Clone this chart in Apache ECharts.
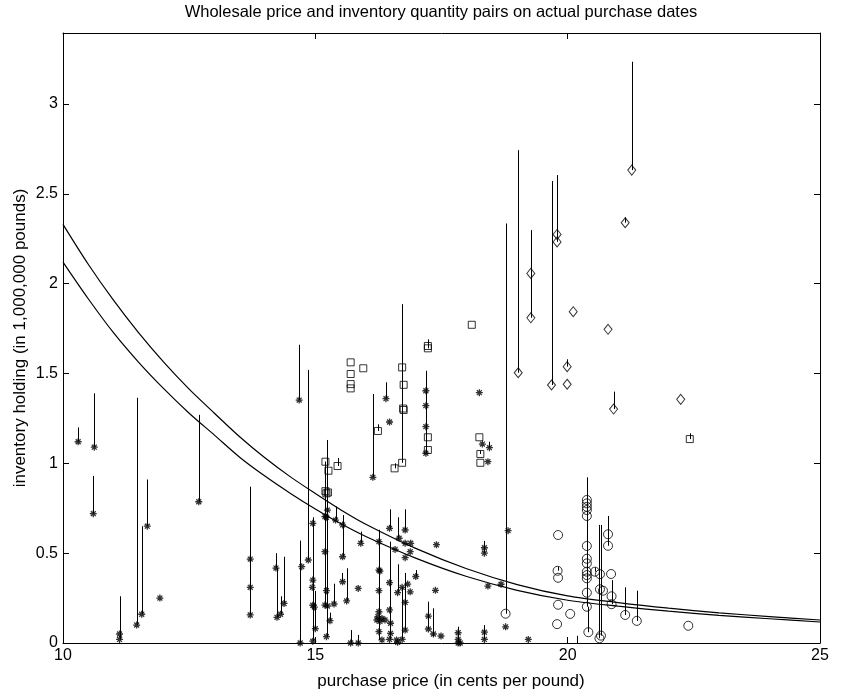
<!DOCTYPE html>
<html>
<head>
<meta charset="utf-8">
<script src="https://cdn.jsdelivr.net/npm/echarts@6/dist/echarts.min.js"></script>
<style>html,body{margin:0;padding:0;background:#fff}#c{width:849px;height:694px}</style>
</head>
<body>
<div id="c"></div>
<script>
// ---- data ----
const titleText = 'Wholesale price and inventory quantity pairs on actual purchase dates';
const xName = 'purchase price (in cents per pound)';
const yName = 'inventory holding (in 1,000,000 pounds)';
const xTicks = [10, 15, 20, 25];
const yTicks = [0, 0.5, 1, 1.5, 2, 2.5, 3];

const starX = [10.30,10.62,10.60,11.67,11.12,11.12,11.46,11.56,11.92,12.69,13.71,13.71,13.71,14.22,14.24,14.31,14.38,14.70,14.73,14.68,14.86,
  14.95,14.95,14.94,14.95,14.98,15.00,14.95,15.24,15.19,15.22,15.19,15.22,15.19,15.24,15.22,15.29,15.37,15.40,15.54,15.54,15.54,15.62,15.90,15.85,15.70,15.85,
  16.26,16.26,16.28,16.26,16.26,16.24,16.22,16.28,16.26,16.32,16.38,16.32,16.47,16.47,16.47,16.49,16.49,16.47,16.61,16.66,16.58,16.63,16.63,16.72,16.72,
  16.78,16.78,16.78,16.78,16.78,16.83,16.88,16.89,16.88,16.99,17.40,17.38,17.24,17.24,17.34,17.49,17.83,17.83,17.83,17.87,18.35,18.35,18.35,18.35,
  18.42,18.68,18.82,18.77,19.22,16.14,16.40,16.47,17.19,17.19,17.19,17.19,18.25,18.31,18.45,18.42];
const starY = [1.12,1.09,0.72,0.65,0.05,0.02,0.10,0.16,0.25,0.786,0.467,0.31,0.156,0.417,0.143,0.16,0.22,0.0,0.425,1.352,0.462,
  0.666,0.35,0.31,0.21,0.20,0.08,0.01,0.74,0.703,0.70,0.508,0.291,0.211,0.206,0.035,0.124,0.217,0.684,0.657,0.48,0.341,0.234,0.555,0.304,0.0,0.0,
  0.564,0.406,0.40,0.291,0.174,0.146,0.128,0.12,0.063,0.137,0.128,0.017,0.638,0.336,0.184,0.11,0.054,0.02,0.017,0.583,0.521,0.28,0.004,0.31,0.02,
  0.629,0.555,0.475,0.226,0.072,0.328,0.285,0.555,0.508,0.37,0.547,0.293,0.15,0.078,0.05,0.039,0.057,0.02,0.0,0.0,0.06,0.02,0.53,0.50,
  0.317,0.327,0.625,0.09,0.02,0.922,1.36,1.23,1.404,1.321,1.204,1.056,1.393,1.107,1.087,1.009];

const squareX = [15.20,15.26,15.22,15.20,15.25,15.44,15.70,15.70,15.70,15.70,15.95,16.24,16.57,16.72,16.75,16.75,16.74,16.72,17.23,17.23,17.23,17.23,18.10,18.25,18.27,18.27,22.42];
const squareY = [1.009,0.959,0.833,0.845,0.838,0.985,1.562,1.497,1.441,1.417,1.529,1.18,0.972,1.534,1.437,1.297,1.305,1.003,1.653,1.64,1.145,1.074,1.771,1.145,1.052,1.003,1.135];

const circleX = [18.77,20.38,20.38,20.38,20.38,20.38,20.38,20.38,20.38,20.38,20.38,20.38,20.38,20.38,20.41,19.81,19.80,19.81,19.81,20.05,19.79,
  20.54,20.64,20.64,20.70,20.66,20.63,20.80,20.80,20.86,20.87,20.87,21.14,21.37,22.39];
const circleY = [0.163,0.796,0.777,0.758,0.74,0.707,0.54,0.469,0.443,0.397,0.378,0.36,0.28,0.202,0.06,0.601,0.402,0.363,0.213,0.162,0.105,
  0.397,0.383,0.299,0.291,0.041,0.026,0.605,0.541,0.384,0.26,0.216,0.156,0.123,0.096];

const diamondX = [19.02,19.27,19.27,19.68,19.79,19.79,19.99,19.99,20.11,20.80,20.91,21.14,21.27,22.24];
const diamondY = [1.504,2.057,1.81,1.436,2.274,2.232,1.538,1.44,1.844,1.746,1.302,2.339,2.632,1.356];

// vertical segments: x, lower end, upper end
const segX  = [10.30,10.62,10.60,11.67,11.12,11.46,11.56,12.69,13.71,14.22,14.24,14.31,14.38,14.70,14.68,14.86,14.95,15.00,15.24,15.19,
  15.29,15.37,15.40,15.54,15.53,15.62,15.90,15.70,15.85,16.26,16.47,16.47,16.64,16.78,16.63,16.72,16.78,16.99,17.24,17.34,17.83,18.35,18.35,
  16.14,16.40,17.19,18.45,15.44,16.24,16.57,16.72,17.23,18.27,22.42,
  18.77,20.38,20.41,19.80,20.54,20.63,20.66,20.80,20.87,21.14,21.37,20.18,
  19.02,19.27,19.68,19.79,19.99,20.91,21.14,21.27];
const segLo = [1.12,1.09,0.72,0.65,0.02,0.10,0.16,0.786,0.156,0.417,0.143,0.16,0.22,0.0,1.352,0.462,0.01,0.078,0.035,0.21,
  0.124,0.217,0.684,0.48,0.341,0.234,0.555,0.0,0.0,0.017,0.638,0.02,0.577,0.629,0.28,0.02,0.072,0.37,0.078,0.039,0.0,0.02,0.50,
  0.922,1.36,1.056,1.087,0.985,1.18,0.972,1.003,1.64,1.052,1.135,
  0.163,0.202,0.06,0.402,0.397,0.026,0.041,0.541,0.216,0.156,0.123,0.0,
  1.504,1.81,1.436,2.232,1.538,1.302,2.339,2.632];
const segHi = [1.20,1.39,0.93,0.91,0.26,1.365,0.65,1.27,0.87,0.50,0.417,0.26,0.48,0.57,1.66,1.52,0.70,0.29,1.13,1.01,
  0.169,0.33,0.76,0.712,0.39,0.416,0.62,0.072,0.045,0.63,0.744,0.564,0.70,0.744,0.438,0.31,0.39,0.406,0.23,0.193,0.091,0.10,0.568,
  1.386,1.451,1.515,1.12,1.03,1.217,1.0,1.886,1.69,1.07,1.167,
  2.335,0.922,0.202,0.425,0.42,0.657,0.657,0.707,0.35,0.31,0.291,0.04,
  2.743,2.298,2.571,2.604,1.579,1.399,2.369,3.235];

// curves
const curveX = [10,10.5,11,11.5,12,12.5,13,13.5,14,14.5,15,15.5,16,17,18,19,20,21,22,23,24,25];
const upperY = [2.33,2.108,1.908,1.726,1.562,1.413,1.279,1.148,1.031,0.926,0.832,0.742,0.661,0.525,0.413,0.325,0.262,0.225,0.194,0.168,0.147,0.128];
const lowerY = [2.12,1.916,1.727,1.562,1.414,1.279,1.157,1.034,0.929,0.834,0.746,0.665,0.593,0.471,0.370,0.293,0.238,0.205,0.177,0.154,0.135,0.117];

// ---- chart ----
const zip2 = (a, b) => a.map((v, i) => [v, b[i]]);
const FONT = 'Liberation Sans, Arial, sans-serif';
const chart = echarts.init(document.getElementById('c'), null, {renderer: 'canvas'});
const axisCommon = {
  type: 'value',
  axisLine: {show: true, onZero: false, lineStyle: {color: '#000', width: 1}},
  axisTick: {show: true, inside: true, length: 6, lineStyle: {color: '#000', width: 1}},
  splitLine: {show: false}
};
const yFmt = v => (yTicks.some(t => Math.abs(t - v) < 1e-9) ? String(v) : '');
const xFmt = v => (xTicks.some(t => Math.abs(t - v) < 1e-9) ? String(v) : '');
const transparent = 'rgba(0,0,0,0)';
const markerStyle = {color: transparent, borderColor: '#000', borderWidth: 1};

chart.setOption({
  animation: false,
  backgroundColor: '#fff',
  grid: {left: 63, right: 29, top: 33, bottom: 51, containLabel: false},
  xAxis: [
    Object.assign({}, axisCommon, {min: 10, max: 25, interval: 5, position: 'bottom',
      axisLabel: {color: '#000', fontSize: 16, fontFamily: FONT, margin: 5, formatter: xFmt}}),
    Object.assign({}, axisCommon, {min: 10, max: 25, interval: 5, position: 'top', axisLabel: {show: false}})
  ],
  yAxis: [
    Object.assign({}, axisCommon, {min: 0, max: 3.395, interval: 0.5, position: 'left',
      axisLabel: {color: '#000', fontSize: 16, fontFamily: FONT, margin: 5, formatter: yFmt, showMaxLabel: false}}),
    Object.assign({}, axisCommon, {min: 0, max: 3.395, interval: 0.5, position: 'right', axisLabel: {show: false}})
  ],
  graphic: [
    {type: 'text', x: 441, y: 12, style: {text: titleText, font: '16.5px ' + FONT, fill: '#000', align: 'center', verticalAlign: 'middle'}},
    {type: 'text', x: 451, y: 681, style: {text: xName, font: '17px ' + FONT, fill: '#000', align: 'center', verticalAlign: 'middle'}},
    {type: 'text', x: 20, y: 338, rotation: Math.PI / 2, style: {text: yName, font: '17px ' + FONT, fill: '#000', align: 'center', verticalAlign: 'middle'}}
  ],
  series: [
    {
      type: 'custom', name: 'segments', xAxisIndex: 0, yAxisIndex: 0, clip: true,
      data: segX.map((x, i) => [x, segLo[i], segHi[i]]),
      encode: {x: 0, y: [1, 2]},
      renderItem: function (params, api) {
        const p1 = api.coord([api.value(0), api.value(1)]);
        const p2 = api.coord([api.value(0), api.value(2)]);
        const x = Math.round(p1[0]) + 0.5;
        return {type: 'line', shape: {x1: x, y1: p1[1], x2: x, y2: p2[1]}, style: {stroke: '#000', lineWidth: 1}};
      },
      z: 2
    },
    {type: 'line', name: 'upper', data: zip2(curveX, upperY), smooth: 0.3, showSymbol: false,
      lineStyle: {color: '#000', width: 1.2}, z: 3},
    {type: 'line', name: 'lower', data: zip2(curveX, lowerY), smooth: 0.3, showSymbol: false,
      lineStyle: {color: '#000', width: 1.2}, z: 3},
    {type: 'scatter', name: 'star', data: zip2(starX, starY), symbol: 'path://M5,0L5,10M0,5L10,5M1.5,1.5L8.5,8.5M8.5,1.5L1.5,8.5',
      symbolSize: 7, itemStyle: {color: transparent, borderColor: '#000', borderWidth: 1.3}, z: 4},
    {type: 'scatter', name: 'square', data: zip2(squareX, squareY), symbol: 'rect', symbolSize: 7, itemStyle: markerStyle, z: 4},
    {type: 'scatter', name: 'circle', data: zip2(circleX, circleY), symbol: 'circle', symbolSize: 9, itemStyle: markerStyle, z: 4},
    {type: 'scatter', name: 'diamond', data: zip2(diamondX, diamondY), symbol: 'diamond', symbolSize: [8, 10], itemStyle: markerStyle, z: 4}
  ]
});
</script>
</body>
</html>
